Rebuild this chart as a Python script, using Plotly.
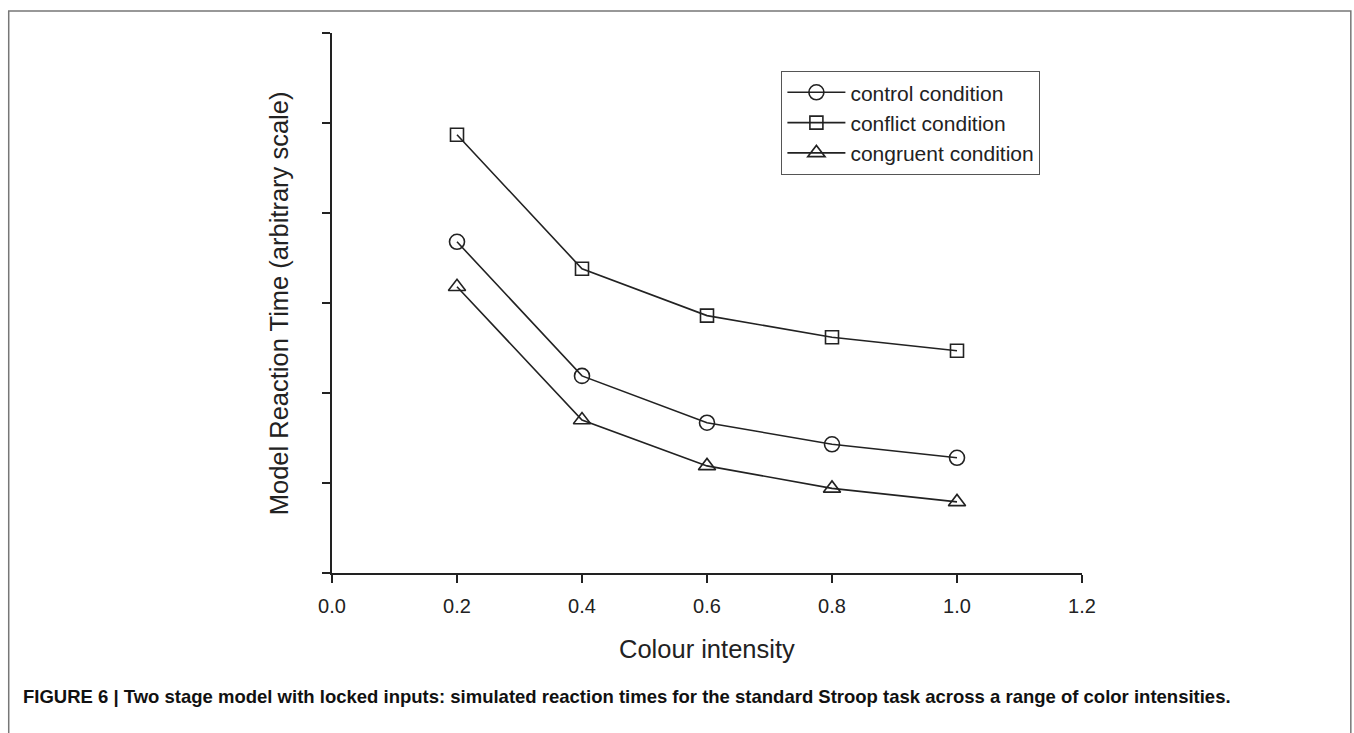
import plotly.graph_objects as go

# Data
intensity = [0.2, 0.4, 0.6, 0.8, 1.0]
control_rt = [3.68, 2.19, 1.67, 1.43, 1.28]
conflict_rt = [4.87, 3.38, 2.86, 2.62, 2.47]
congruent_rt = [3.18, 1.70, 1.19, 0.94, 0.79]

series_names = ["control condition", "conflict condition", "congruent condition"]
series_values = [control_rt, conflict_rt, congruent_rt]
series_symbols = ["circle-open", "square-open", "triangle-up-open"]
series_sizes = [15, 13, 15]

x_ticks = [0.0, 0.2, 0.4, 0.6, 0.8, 1.0, 1.2]
x_tick_labels = ["0.0", "0.2", "0.4", "0.6", "0.8", "1.0", "1.2"]
y_ticks = [0, 1, 2, 3, 4, 5, 6]

W, H = 1354, 733
L, R, T, B = 331.5, 272, 33, 159.5
PW, PH = W - L - R, H - T - B

def px(xp):
    return (xp - L) / PW

def py(yp):
    return (H - B - yp) / PH

ink = "#222222"
fig = go.Figure()
for name, vals, sym, sz in zip(series_names, series_values, series_symbols, series_sizes):
    fig.add_trace(go.Scatter(
        x=intensity, y=vals, name=name, mode="lines+markers",
        line=dict(color=ink, width=1.6),
        marker=dict(symbol=sym, size=sz, color=ink, line=dict(color=ink, width=1.6)),
    ))

fig.update_layout(
    width=W, height=H,
    margin=dict(l=L, r=R, t=T, b=B, pad=0),
    paper_bgcolor="white", plot_bgcolor="white",
    font=dict(family="Liberation Sans, Arial, sans-serif", color=ink),
    showlegend=True,
    legend=dict(
        x=px(781), y=py(71), xanchor="left", yanchor="top",
        bordercolor="#555555", borderwidth=1.2, bgcolor="white",
        font=dict(size=21, color=ink), tracegroupgap=0,
        itemwidth=58, entrywidth=200, entrywidthmode="pixels",
    ),
    xaxis=dict(
        range=[0, 1.2], tickvals=x_ticks, ticktext=x_tick_labels,
        showgrid=False, zeroline=False, showline=True, linecolor=ink, linewidth=1.6,
        ticks="outside", ticklen=8, tickwidth=1.6, tickcolor=ink,
        tickfont=dict(size=20, color=ink), ticklabelstandoff=6,
    ),
    yaxis=dict(
        range=[0, 6], tickvals=y_ticks, showticklabels=False,
        showgrid=False, zeroline=False, showline=True, linecolor=ink, linewidth=1.6,
        ticks="outside", ticklen=8, tickwidth=1.6, tickcolor=ink,
    ),
    shapes=[
        dict(type="rect", xref="paper", yref="paper",
             x0=px(8), x1=px(1351), y0=py(745), y1=py(11),
             line=dict(color="#777777", width=1.5), fillcolor="rgba(0,0,0,0)", layer="below"),
    ],
    annotations=[
        dict(text="Colour intensity", xref="paper", yref="paper", x=0.5, y=py(650),
             xanchor="center", yanchor="middle", showarrow=False,
             font=dict(size=25.5, color=ink)),
        dict(text="Model Reaction Time (arbitrary scale)", xref="paper", yref="paper",
             x=px(278), y=py(304), xanchor="center", yanchor="middle", textangle=-90,
             showarrow=False, font=dict(size=25.5, color=ink)),
        dict(text="<b>FIGURE 6 | Two stage model with locked inputs: simulated reaction times for the standard Stroop task across a range of color intensities.</b>",
             xref="paper", yref="paper", x=px(20), y=py(697), xanchor="left", yanchor="middle",
             showarrow=False,
             font=dict(family="Liberation Sans, Arial, sans-serif", size=18.5, color="#111111")),
    ],
)

fig.write_html("out.html", config={"displayModeBar": False},
               post_script="document.body.style.margin='0px';")
